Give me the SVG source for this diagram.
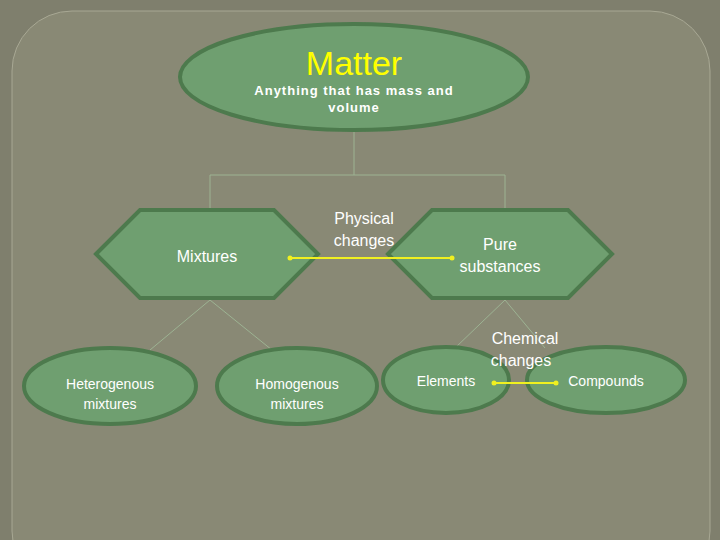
<svg xmlns="http://www.w3.org/2000/svg" width="720" height="540" viewBox="0 0 720 540">
<style>
.n{fill:#6f9f70;stroke:#4d7a4d;stroke-width:4}
.c{stroke:#9db393;stroke-width:1;fill:none}
.y{stroke:#f0f020;stroke-width:2}
.t{font-family:"Liberation Sans",Arial,sans-serif;fill:#fff;text-anchor:middle}
</style>
<rect width="720" height="540" fill="#7f7f6d"/>
<rect x="12" y="11" width="698" height="580" rx="60" fill="#898975" stroke="#a8a894" stroke-width="1"/>
<g id="tree-lines">
<path class="c" d="M354 130V175M210 175H505M210 175V210M505 175V210"/>
<path class="c" d="M210 300L150 350M210 300L272 350M505 300L455 348M505 300L545 348"/>
</g>
<g id="matter">
<ellipse class="n" cx="354" cy="77" rx="174" ry="53"/>
<text class="t" x="354" y="75" font-size="34" style="fill:#ffff00">Matter</text>
<text class="t" x="354" y="95" font-size="13" font-weight="bold" letter-spacing="1">Anything that has mass and</text>
<text class="t" x="354" y="112" font-size="13" font-weight="bold" letter-spacing="1">volume</text>
</g>
<g id="mixtures">
<polygon class="n" points="96,254 140,210 274,210 318,254 274,298 140,298"/>
<text class="t" x="207" y="262" font-size="16">Mixtures</text>
</g>
<g id="physical">
<text class="t" x="364" y="224" font-size="16">Physical</text>
<text class="t" x="364" y="246" font-size="16">changes</text>
</g>
<g id="pure">
<polygon class="n" points="388,254 432,210 568,210 612,254 568,298 432,298"/>
<text class="t" x="500" y="250" font-size="16">Pure</text>
<text class="t" x="500" y="272" font-size="16">substances</text>
</g>
<g id="hetero">
<ellipse class="n" cx="110" cy="386" rx="86" ry="38"/>
<text class="t" x="110" y="389" font-size="14">Heterogenous</text>
<text class="t" x="110" y="409" font-size="14">mixtures</text>
</g>
<g id="homo">
<ellipse class="n" cx="297" cy="386" rx="80" ry="38"/>
<text class="t" x="297" y="389" font-size="14">Homogenous</text>
<text class="t" x="297" y="409" font-size="14">mixtures</text>
</g>
<g id="elements">
<ellipse class="n" cx="446" cy="380" rx="63" ry="33"/>
<text class="t" x="446" y="386" font-size="14">Elements</text>
</g>
<g id="compounds">
<ellipse class="n" cx="606" cy="380" rx="79" ry="33"/>
<text class="t" x="606" y="386" font-size="14">Compounds</text>
</g>
<g id="chemical">
<text class="t" x="525" y="344" font-size="16">Chemical</text>
<text class="t" x="521" y="366" font-size="16">changes</text>
</g>
<g id="connectors">
<line class="y" x1="290" y1="258" x2="452" y2="258"/>
<circle cx="290" cy="258" r="2.5" fill="#f0f020"/><circle cx="452" cy="258" r="2.5" fill="#f0f020"/>
<line class="y" x1="494" y1="383" x2="556" y2="383"/>
<circle cx="494" cy="383" r="2.5" fill="#f0f020"/><circle cx="556" cy="383" r="2.5" fill="#f0f020"/>
</g>
</svg>
